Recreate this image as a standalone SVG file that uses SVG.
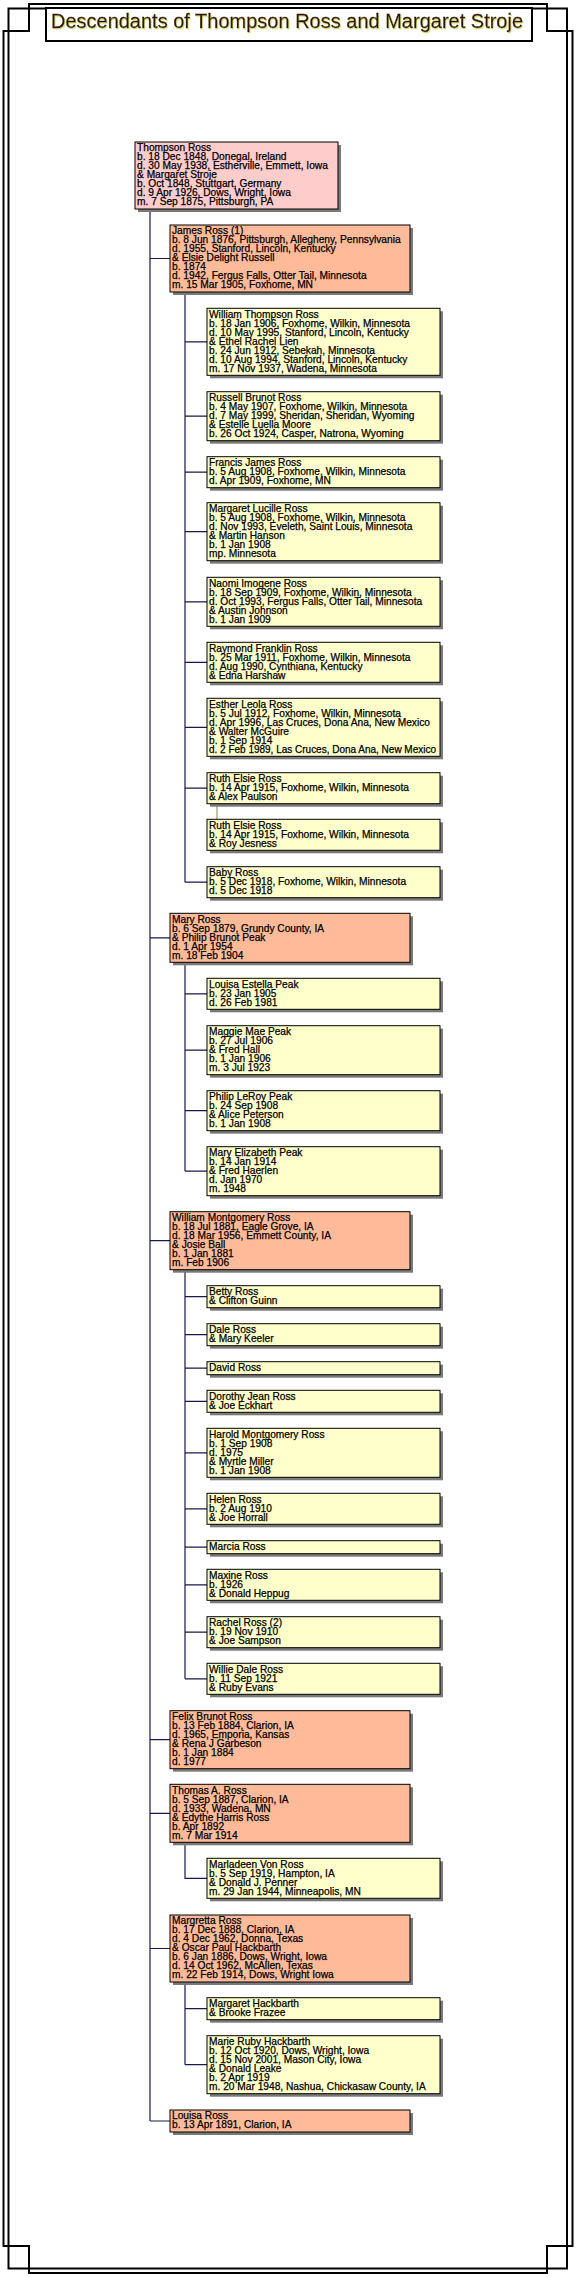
<svg xmlns="http://www.w3.org/2000/svg" width="576" height="2277" viewBox="0 0 576 2277">
<defs>
<style>
.t{font-family:"Liberation Sans",Arial,sans-serif;font-size:10.2px;fill:#000;stroke:#000;stroke-width:0.25}
.sh{fill:#7a7a7a}
.b1{fill:#ffcccc;stroke:#000;stroke-width:1}
.b2{fill:#ffbb99;stroke:#000;stroke-width:1}
.b3{fill:#ffffcc;stroke:#000;stroke-width:1}
.c{stroke:#1a1a4a;stroke-width:1.2;fill:none}
.fr{stroke:#000;stroke-width:2;fill:none}
</style>
<filter id="glow" x="-5%" y="-30%" width="110%" height="160%">
<feDropShadow dx="0.8" dy="1.2" stdDeviation="0.4" flood-color="#c8e060" flood-opacity="0.9"/>
</filter>
</defs>
<rect width="576" height="2277" fill="#fff"/>
<g id="frame">
<path class="fr" d="M29,4 H547 V31 H572.5 V2246 H547 V2273 H29 V2246 H3.5 V31 H29 Z"/>
<rect class="fr" x="8.5" y="8.5" width="558.5" height="2260"/>
</g>
<g id="title">
<rect x="46" y="8" width="486" height="33" fill="#fff" stroke="#000" stroke-width="2"/>
<text x="287" y="27.5" text-anchor="middle" font-family="Liberation Sans,Arial,sans-serif" font-size="20" fill="#3a0808" stroke="#3a0808" stroke-width="0.3" filter="url(#glow)">Descendants of Thompson Ross and Margaret Stroje</text>
</g>
<g id="connectors">
<path class="c" d="M150,209 V2121 M150,258.5 H170 M150,937.8 H170 M150,1240.7 H170 M150,1739.7 H170 M150,1813.3 H170 M150,1948.5 H170 M150,2121 H170"/>
<path class="c" d="M185,292 V882.2 M185,341.8 H207 M185,416.2 H207 M185,472.2 H207 M185,531.7 H207 M185,601.8 H207 M185,662.3 H207 M185,727.3 H207 M185,788.2 H207 M185,882.2 H207"/>
<path d="M217,803.7 V819.3" stroke="#999966" stroke-width="1.2"/>
<path class="c" d="M185,962.3 V1171.2 M185,993.8 H207 M185,1050.2 H207 M185,1110.7 H207 M185,1171.2 H207"/>
<path class="c" d="M185,1269.7 V1678.8 M185,1296.7 H207 M185,1334.7 H207 M185,1368.2 H207 M185,1401.3 H207 M185,1452.8 H207 M185,1508.8 H207 M185,1547.2 H207 M185,1584.8 H207 M185,1632.2 H207 M185,1678.8 H207"/>
<path class="c" d="M185,1842.3 V1878.3 H207"/>
<path class="c" d="M185,1982 V2064.7 M185,2008.7 H207 M185,2064.7 H207"/>
</g>
<g id="n1"><rect class="sh" x="138" y="145" width="203" height="67"/><rect class="b1" x="135" y="142" width="203" height="67"/><text class="t" x="137" y="151.3"><tspan x="137">Thompson Ross</tspan><tspan x="137" dy="9">b. 18 Dec 1848, Donegal, Ireland</tspan><tspan x="137" dy="9">d. 30 May 1938, Estherville, Emmett, Iowa</tspan><tspan x="137" dy="9">&amp; Margaret Stroje</tspan><tspan x="137" dy="9">b. Oct 1848, Stuttgart, Germany</tspan><tspan x="137" dy="9">d. 9 Apr 1926, Dows, Wright, Iowa</tspan><tspan x="137" dy="9">m. 7 Sep 1875, Pittsburgh, PA</tspan></text></g>
<g id="n2"><rect class="sh" x="173" y="228" width="240" height="67"/><rect class="b2" x="170" y="225" width="240" height="67"/><text class="t" x="172" y="234.3"><tspan x="172">James Ross (1)</tspan><tspan x="172" dy="9">b. 8 Jun 1876, Pittsburgh, Allegheny, Pennsylvania</tspan><tspan x="172" dy="9">d. 1955, Stanford, Lincoln, Kentucky</tspan><tspan x="172" dy="9">&amp; Elsie Delight Russell</tspan><tspan x="172" dy="9">b. 1874</tspan><tspan x="172" dy="9">d. 1942, Fergus Falls, Otter Tail, Minnesota</tspan><tspan x="172" dy="9">m. 15 Mar 1905, Foxhome, MN</tspan></text></g>
<g id="n3"><rect class="sh" x="210" y="311.3" width="233" height="67"/><rect class="b3" x="207" y="308.3" width="233" height="67"/><text class="t" x="209" y="317.6"><tspan x="209">William Thompson Ross</tspan><tspan x="209" dy="9">b. 18 Jan 1906, Foxhome, Wilkin, Minnesota</tspan><tspan x="209" dy="9">d. 10 May 1995, Stanford, Lincoln, Kentucky</tspan><tspan x="209" dy="9">&amp; Ethel Rachel Lien</tspan><tspan x="209" dy="9">b. 24 Jun 1912, Sebekah, Minnesota</tspan><tspan x="209" dy="9">d. 10 Aug 1994, Stanford, Lincoln, Kentucky</tspan><tspan x="209" dy="9">m. 17 Nov 1937, Wadena, Minnesota</tspan></text></g>
<g id="n4"><rect class="sh" x="210" y="394.7" width="233" height="49"/><rect class="b3" x="207" y="391.7" width="233" height="49"/><text class="t" x="209" y="401"><tspan x="209">Russell Brunot Ross</tspan><tspan x="209" dy="9">b. 4 May 1907, Foxhome, Wilkin, Minnesota</tspan><tspan x="209" dy="9">d. 7 May 1999, Sheridan, Sheridan, Wyoming</tspan><tspan x="209" dy="9">&amp; Estelle Luella Moore</tspan><tspan x="209" dy="9">b. 26 Oct 1924, Casper, Natrona, Wyoming</tspan></text></g>
<g id="n5"><rect class="sh" x="210" y="459.7" width="233" height="31"/><rect class="b3" x="207" y="456.7" width="233" height="31"/><text class="t" x="209" y="466"><tspan x="209">Francis James Ross</tspan><tspan x="209" dy="9">b. 5 Aug 1908, Foxhome, Wilkin, Minnesota</tspan><tspan x="209" dy="9">d. Apr 1909, Foxhome, MN</tspan></text></g>
<g id="n6"><rect class="sh" x="210" y="505.7" width="233" height="58"/><rect class="b3" x="207" y="502.7" width="233" height="58"/><text class="t" x="209" y="512"><tspan x="209">Margaret Lucille Ross</tspan><tspan x="209" dy="9">b. 5 Aug 1908, Foxhome, Wilkin, Minnesota</tspan><tspan x="209" dy="9">d. Nov 1993, Eveleth, Saint Louis, Minnesota</tspan><tspan x="209" dy="9">&amp; Martin Hanson</tspan><tspan x="209" dy="9">b. 1 Jan 1908</tspan><tspan x="209" dy="9">mp. Minnesota</tspan></text></g>
<g id="n7"><rect class="sh" x="210" y="580.3" width="233" height="49"/><rect class="b3" x="207" y="577.3" width="233" height="49"/><text class="t" x="209" y="586.6"><tspan x="209">Naomi Imogene Ross</tspan><tspan x="209" dy="9">b. 18 Sep 1909, Foxhome, Wilkin, Minnesota</tspan><tspan x="209" dy="9">d. Oct 1993, Fergus Falls, Otter Tail, Minnesota</tspan><tspan x="209" dy="9">&amp; Austin Johnson</tspan><tspan x="209" dy="9">b. 1 Jan 1909</tspan></text></g>
<g id="n8"><rect class="sh" x="210" y="645.3" width="233" height="40"/><rect class="b3" x="207" y="642.3" width="233" height="40"/><text class="t" x="209" y="651.6"><tspan x="209">Raymond Franklin Ross</tspan><tspan x="209" dy="9">b. 25 Mar 1911, Foxhome, Wilkin, Minnesota</tspan><tspan x="209" dy="9">d. Aug 1990, Cynthiana, Kentucky</tspan><tspan x="209" dy="9">&amp; Edna Harshaw</tspan></text></g>
<g id="n9"><rect class="sh" x="210" y="701.3" width="233" height="58"/><rect class="b3" x="207" y="698.3" width="233" height="58"/><text class="t" x="209" y="707.6"><tspan x="209">Esther Leola Ross</tspan><tspan x="209" dy="9">b. 5 Jul 1912, Foxhome, Wilkin, Minnesota</tspan><tspan x="209" dy="9" textLength="221" lengthAdjust="spacingAndGlyphs">d. Apr 1996, Las Cruces, Dona Ana, New Mexico</tspan><tspan x="209" dy="9">&amp; Walter McGuire</tspan><tspan x="209" dy="9">b. 1 Sep 1914</tspan><tspan x="209" dy="9" textLength="227" lengthAdjust="spacingAndGlyphs">d. 2 Feb 1989, Las Cruces, Dona Ana, New Mexico</tspan></text></g>
<g id="n10"><rect class="sh" x="210" y="775.7" width="233" height="31"/><rect class="b3" x="207" y="772.7" width="233" height="31"/><text class="t" x="209" y="782"><tspan x="209">Ruth Elsie Ross</tspan><tspan x="209" dy="9">b. 14 Apr 1915, Foxhome, Wilkin, Minnesota</tspan><tspan x="209" dy="9">&amp; Alex Paulson</tspan></text></g>
<g id="n11"><rect class="sh" x="210" y="822.3" width="233" height="31"/><rect class="b3" x="207" y="819.3" width="233" height="31"/><text class="t" x="209" y="828.6"><tspan x="209">Ruth Elsie Ross</tspan><tspan x="209" dy="9">b. 14 Apr 1915, Foxhome, Wilkin, Minnesota</tspan><tspan x="209" dy="9">&amp; Roy Jesness</tspan></text></g>
<g id="n12"><rect class="sh" x="210" y="869.7" width="233" height="31"/><rect class="b3" x="207" y="866.7" width="233" height="31"/><text class="t" x="209" y="876"><tspan x="209">Baby Ross</tspan><tspan x="209" dy="9">b. 5 Dec 1918, Foxhome, Wilkin, Minnesota</tspan><tspan x="209" dy="9">d. 5 Dec 1918</tspan></text></g>
<g id="n13"><rect class="sh" x="173" y="916.3" width="240" height="49"/><rect class="b2" x="170" y="913.3" width="240" height="49"/><text class="t" x="172" y="922.6"><tspan x="172">Mary Ross</tspan><tspan x="172" dy="9">b. 6 Sep 1879, Grundy County, IA</tspan><tspan x="172" dy="9">&amp; Philip Brunot Peak</tspan><tspan x="172" dy="9">d. 1 Apr 1954</tspan><tspan x="172" dy="9">m. 18 Feb 1904</tspan></text></g>
<g id="n14"><rect class="sh" x="210" y="981.3" width="233" height="31"/><rect class="b3" x="207" y="978.3" width="233" height="31"/><text class="t" x="209" y="987.6"><tspan x="209">Louisa Estella Peak</tspan><tspan x="209" dy="9">b. 23 Jan 1905</tspan><tspan x="209" dy="9">d. 26 Feb 1981</tspan></text></g>
<g id="n15"><rect class="sh" x="210" y="1028.7" width="233" height="49"/><rect class="b3" x="207" y="1025.7" width="233" height="49"/><text class="t" x="209" y="1035"><tspan x="209">Maggie Mae Peak</tspan><tspan x="209" dy="9">b. 27 Jul 1906</tspan><tspan x="209" dy="9">&amp; Fred Hall</tspan><tspan x="209" dy="9">b. 1 Jan 1906</tspan><tspan x="209" dy="9">m. 3 Jul 1923</tspan></text></g>
<g id="n16"><rect class="sh" x="210" y="1093.7" width="233" height="40"/><rect class="b3" x="207" y="1090.7" width="233" height="40"/><text class="t" x="209" y="1100"><tspan x="209">Philip LeRoy Peak</tspan><tspan x="209" dy="9">b. 24 Sep 1908</tspan><tspan x="209" dy="9">&amp; Alice Peterson</tspan><tspan x="209" dy="9">b. 1 Jan 1908</tspan></text></g>
<g id="n17"><rect class="sh" x="210" y="1149.7" width="233" height="49"/><rect class="b3" x="207" y="1146.7" width="233" height="49"/><text class="t" x="209" y="1156"><tspan x="209">Mary Elizabeth Peak</tspan><tspan x="209" dy="9">b. 14 Jan 1914</tspan><tspan x="209" dy="9">&amp; Fred Haerlen</tspan><tspan x="209" dy="9">d. Jan 1970</tspan><tspan x="209" dy="9">m. 1948</tspan></text></g>
<g id="n18"><rect class="sh" x="173" y="1214.7" width="240" height="58"/><rect class="b2" x="170" y="1211.7" width="240" height="58"/><text class="t" x="172" y="1221"><tspan x="172">William Montgomery Ross</tspan><tspan x="172" dy="9">b. 18 Jul 1881, Eagle Grove, IA</tspan><tspan x="172" dy="9">d. 18 Mar 1956, Emmett County, IA</tspan><tspan x="172" dy="9">&amp; Josie Ball</tspan><tspan x="172" dy="9">b. 1 Jan 1881</tspan><tspan x="172" dy="9">m. Feb 1906</tspan></text></g>
<g id="n19"><rect class="sh" x="210" y="1288.7" width="233" height="22"/><rect class="b3" x="207" y="1285.7" width="233" height="22"/><text class="t" x="209" y="1295"><tspan x="209">Betty Ross</tspan><tspan x="209" dy="9">&amp; Clifton Guinn</tspan></text></g>
<g id="n20"><rect class="sh" x="210" y="1326.7" width="233" height="22"/><rect class="b3" x="207" y="1323.7" width="233" height="22"/><text class="t" x="209" y="1333"><tspan x="209">Dale Ross</tspan><tspan x="209" dy="9">&amp; Mary Keeler</tspan></text></g>
<g id="n21"><rect class="sh" x="210" y="1364.7" width="233" height="13"/><rect class="b3" x="207" y="1361.7" width="233" height="13"/><text class="t" x="209" y="1371"><tspan x="209">David Ross</tspan></text></g>
<g id="n22"><rect class="sh" x="210" y="1393.3" width="233" height="22"/><rect class="b3" x="207" y="1390.3" width="233" height="22"/><text class="t" x="209" y="1399.6"><tspan x="209">Dorothy Jean Ross</tspan><tspan x="209" dy="9">&amp; Joe Eckhart</tspan></text></g>
<g id="n23"><rect class="sh" x="210" y="1431.3" width="233" height="49"/><rect class="b3" x="207" y="1428.3" width="233" height="49"/><text class="t" x="209" y="1437.6"><tspan x="209">Harold Montgomery Ross</tspan><tspan x="209" dy="9">b. 1 Sep 1908</tspan><tspan x="209" dy="9">d. 1975</tspan><tspan x="209" dy="9">&amp; Myrtle Miller</tspan><tspan x="209" dy="9">b. 1 Jan 1908</tspan></text></g>
<g id="n24"><rect class="sh" x="210" y="1496.3" width="233" height="31"/><rect class="b3" x="207" y="1493.3" width="233" height="31"/><text class="t" x="209" y="1502.6"><tspan x="209">Helen Ross</tspan><tspan x="209" dy="9">b. 2 Aug 1910</tspan><tspan x="209" dy="9">&amp; Joe Horrall</tspan></text></g>
<g id="n25"><rect class="sh" x="210" y="1543.7" width="233" height="13"/><rect class="b3" x="207" y="1540.7" width="233" height="13"/><text class="t" x="209" y="1550"><tspan x="209">Marcia Ross</tspan></text></g>
<g id="n26"><rect class="sh" x="210" y="1572.3" width="233" height="31"/><rect class="b3" x="207" y="1569.3" width="233" height="31"/><text class="t" x="209" y="1578.6"><tspan x="209">Maxine Ross</tspan><tspan x="209" dy="9">b. 1926</tspan><tspan x="209" dy="9">&amp; Donald Heppug</tspan></text></g>
<g id="n27"><rect class="sh" x="210" y="1619.7" width="233" height="31"/><rect class="b3" x="207" y="1616.7" width="233" height="31"/><text class="t" x="209" y="1626"><tspan x="209">Rachel Ross (2)</tspan><tspan x="209" dy="9">b. 19 Nov 1910</tspan><tspan x="209" dy="9">&amp; Joe Sampson</tspan></text></g>
<g id="n28"><rect class="sh" x="210" y="1666.3" width="233" height="31"/><rect class="b3" x="207" y="1663.3" width="233" height="31"/><text class="t" x="209" y="1672.6"><tspan x="209">Willie Dale Ross</tspan><tspan x="209" dy="9">b. 11 Sep 1921</tspan><tspan x="209" dy="9">&amp; Ruby Evans</tspan></text></g>
<g id="n29"><rect class="sh" x="173" y="1713.7" width="240" height="58"/><rect class="b2" x="170" y="1710.7" width="240" height="58"/><text class="t" x="172" y="1720"><tspan x="172">Felix Brunot Ross</tspan><tspan x="172" dy="9">b. 13 Feb 1884, Clarion, IA</tspan><tspan x="172" dy="9">d. 1965, Emporia, Kansas</tspan><tspan x="172" dy="9">&amp; Rena J Garbeson</tspan><tspan x="172" dy="9">b. 1 Jan 1884</tspan><tspan x="172" dy="9">d. 1977</tspan></text></g>
<g id="n30"><rect class="sh" x="173" y="1787.3" width="240" height="58"/><rect class="b2" x="170" y="1784.3" width="240" height="58"/><text class="t" x="172" y="1793.6"><tspan x="172">Thomas A. Ross</tspan><tspan x="172" dy="9">b. 5 Sep 1887, Clarion, IA</tspan><tspan x="172" dy="9">d. 1933, Wadena, MN</tspan><tspan x="172" dy="9">&amp; Edythe Harris Ross</tspan><tspan x="172" dy="9">b. Apr 1892</tspan><tspan x="172" dy="9">m. 7 Mar 1914</tspan></text></g>
<g id="n31"><rect class="sh" x="210" y="1861.3" width="233" height="40"/><rect class="b3" x="207" y="1858.3" width="233" height="40"/><text class="t" x="209" y="1867.6"><tspan x="209">Marladeen Von Ross</tspan><tspan x="209" dy="9">b. 5 Sep 1919, Hampton, IA</tspan><tspan x="209" dy="9">&amp; Donald J. Penner</tspan><tspan x="209" dy="9">m. 29 Jan 1944, Minneapolis, MN</tspan></text></g>
<g id="n32"><rect class="sh" x="173" y="1918" width="240" height="67"/><rect class="b2" x="170" y="1915" width="240" height="67"/><text class="t" x="172" y="1924.3"><tspan x="172">Margretta Ross</tspan><tspan x="172" dy="9">b. 17 Dec 1888, Clarion, IA</tspan><tspan x="172" dy="9">d. 4 Dec 1962, Donna, Texas</tspan><tspan x="172" dy="9">&amp; Oscar Paul Hackbarth</tspan><tspan x="172" dy="9">b. 6 Jan 1886, Dows, Wright, Iowa</tspan><tspan x="172" dy="9">d. 14 Oct 1962, McAllen, Texas</tspan><tspan x="172" dy="9">m. 22 Feb 1914, Dows, Wright Iowa</tspan></text></g>
<g id="n33"><rect class="sh" x="210" y="2000.7" width="233" height="22"/><rect class="b3" x="207" y="1997.7" width="233" height="22"/><text class="t" x="209" y="2007"><tspan x="209">Margaret Hackbarth</tspan><tspan x="209" dy="9">&amp; Brooke Frazee</tspan></text></g>
<g id="n34"><rect class="sh" x="210" y="2038.7" width="233" height="58"/><rect class="b3" x="207" y="2035.7" width="233" height="58"/><text class="t" x="209" y="2045"><tspan x="209">Marie Ruby Hackbarth</tspan><tspan x="209" dy="9">b. 12 Oct 1920, Dows, Wright, Iowa</tspan><tspan x="209" dy="9">d. 15 Nov 2001, Mason City, Iowa</tspan><tspan x="209" dy="9">&amp; Donald Leake</tspan><tspan x="209" dy="9">b. 2 Apr 1919</tspan><tspan x="209" dy="9">m. 20 Mar 1948, Nashua, Chickasaw County, IA</tspan></text></g>
<g id="n35"><rect class="sh" x="173" y="2113" width="240" height="22"/><rect class="b2" x="170" y="2110" width="240" height="22"/><text class="t" x="172" y="2119.3"><tspan x="172">Louisa Ross</tspan><tspan x="172" dy="9">b. 13 Apr 1891, Clarion, IA</tspan></text></g>
</svg>
